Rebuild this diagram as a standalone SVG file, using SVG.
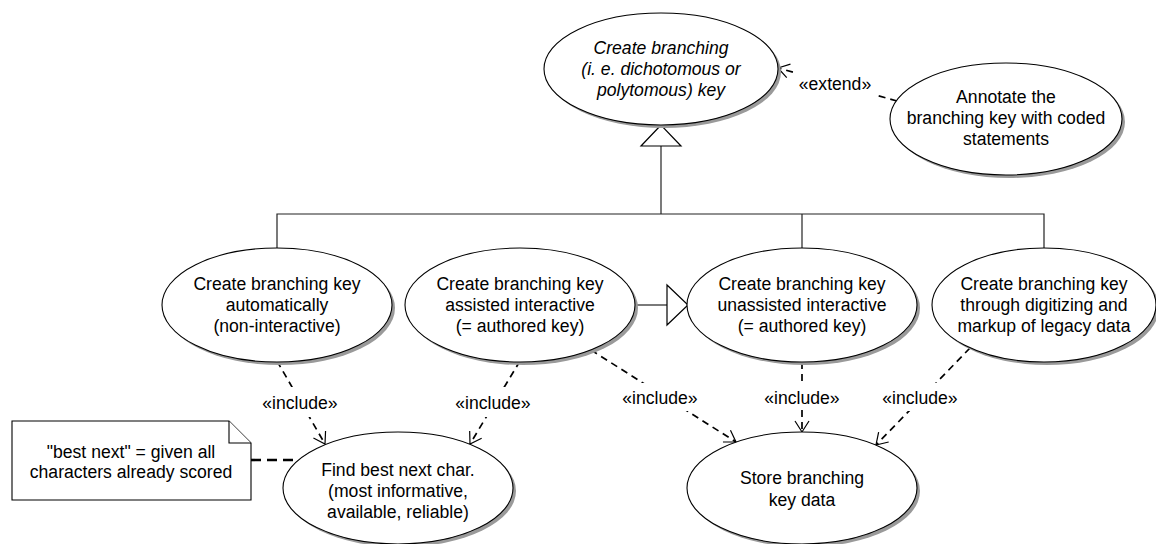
<svg xmlns="http://www.w3.org/2000/svg" width="1156" height="544" viewBox="0 0 1156 544">
<style>
text{font-family:"Liberation Sans",Arial,sans-serif;font-size:17.6px;fill:#000;text-anchor:middle}
.it{font-style:italic}
.sh{fill:#9a9a9a}
.uc{fill:#fff;stroke:#000;stroke-width:1.1}
.gen{fill:none;stroke:#222;stroke-width:1.2}
.tri{fill:#fff;stroke:#000;stroke-width:1.2}
.dep{fill:none;stroke:#000;stroke-width:1.7;stroke-dasharray:7 5}
.anc{fill:none;stroke:#000;stroke-width:2.6;stroke-dasharray:10 6}
.lbg{fill:#fff}
.note{fill:#fff;stroke:#000;stroke-width:1.1}
</style>
<defs>
<marker id="open" viewBox="-13 -9 15 18" refX="0" refY="0" markerWidth="15" markerHeight="18" orient="auto" markerUnits="userSpaceOnUse">
<path d="M-11,-7 L0,0 L-11,7" fill="none" stroke="#000" stroke-width="1.2" stroke-dasharray="none"/>
</marker>
</defs>

<g id="connectors">
  <!-- generalization tree -->
  <polyline class="gen" points="661,146 661,214"/>
  <polyline class="gen" points="277,249 277,214 1044,214 1044,249"/>
  <polyline class="gen" points="802,214 802,249"/>
  <polygon class="tri" points="661,125 641,146 681,146"/>
  <!-- assisted -> unassisted generalization -->
  <line class="gen" x1="635" y1="305" x2="667" y2="305"/>
  <polygon class="tri" points="667,285 667,325 688,305"/>
  <!-- extend -->
  <line class="dep" x1="897" y1="101" x2="778" y2="68" marker-end="url(#open)"/>
  <rect class="lbg" x="796" y="72" width="78" height="24"/>
  <text x="835" y="90">«extend»</text>
  <!-- includes -->
  <line class="dep" x1="277" y1="361" x2="325" y2="444" marker-end="url(#open)"/>
  <rect class="lbg" x="262" y="387" width="77" height="30"/>
  <text x="300" y="409">«include»</text>
  <line class="dep" x1="520" y1="361" x2="470" y2="444" marker-end="url(#open)"/>
  <rect class="lbg" x="455" y="387" width="77" height="30"/>
  <text x="493" y="409">«include»</text>
  <line class="dep" x1="591" y1="350" x2="736" y2="442" marker-end="url(#open)"/>
  <rect class="lbg" x="622" y="383" width="77" height="28"/>
  <text x="660" y="404">«include»</text>
  <line class="dep" x1="802" y1="362" x2="802" y2="432" marker-end="url(#open)"/>
  <rect class="lbg" x="764" y="384" width="77" height="26"/>
  <text x="802" y="404">«include»</text>
  <line class="dep" x1="970" y1="348" x2="876" y2="445" marker-end="url(#open)"/>
  <rect class="lbg" x="882" y="383" width="77" height="28"/>
  <text x="920" y="404">«include»</text>
  <!-- note anchor -->
  <line class="anc" x1="251" y1="460" x2="298" y2="460"/>
</g>

<g id="uc-create-branching">
  <ellipse class="sh" cx="664" cy="72" rx="117" ry="56"/>
  <ellipse class="uc" cx="661" cy="69" rx="117" ry="56"/>
  <text class="it" x="661" y="54">Create branching</text>
  <text class="it" x="661" y="75">(i. e. dichotomous or</text>
  <text class="it" x="661" y="96">polytomous) key</text>
</g>

<g id="uc-annotate">
  <ellipse class="sh" cx="1009" cy="122" rx="116" ry="56"/>
  <ellipse class="uc" cx="1006" cy="119" rx="116" ry="56"/>
  <text x="1006" y="103">Annotate the</text>
  <text x="1006" y="124">branching key with coded</text>
  <text x="1006" y="145">statements</text>
</g>

<g id="uc-automatic">
  <ellipse class="sh" cx="280" cy="308" rx="115" ry="57"/>
  <ellipse class="uc" cx="277" cy="305" rx="115" ry="57"/>
  <text x="277" y="290">Create branching key</text>
  <text x="277" y="311">automatically</text>
  <text x="277" y="332">(non-interactive)</text>
</g>

<g id="uc-assisted">
  <ellipse class="sh" cx="523" cy="308" rx="115" ry="57"/>
  <ellipse class="uc" cx="520" cy="305" rx="115" ry="57"/>
  <text x="520" y="290">Create branching key</text>
  <text x="520" y="311">assisted interactive</text>
  <text x="520" y="332">(= authored key)</text>
</g>

<g id="uc-unassisted">
  <ellipse class="sh" cx="805" cy="308" rx="115" ry="57"/>
  <ellipse class="uc" cx="802" cy="305" rx="115" ry="57"/>
  <text x="802" y="290">Create branching key</text>
  <text x="802" y="311">unassisted interactive</text>
  <text x="802" y="332">(= authored key)</text>
</g>

<g id="uc-digitizing">
  <ellipse class="sh" cx="1047" cy="308" rx="112" ry="57"/>
  <ellipse class="uc" cx="1044" cy="305" rx="112" ry="57"/>
  <text x="1044" y="290">Create branching key</text>
  <text x="1044" y="311">through digitizing and</text>
  <text x="1044" y="332">markup of legacy data</text>
</g>

<g id="uc-find-best">
  <ellipse class="sh" cx="401" cy="491" rx="115" ry="56"/>
  <ellipse class="uc" cx="398" cy="488" rx="115" ry="56"/>
  <text x="398" y="476">Find best next char.</text>
  <text x="398" y="497">(most informative,</text>
  <text x="398" y="518">available, reliable)</text>
</g>

<g id="uc-store">
  <ellipse class="sh" cx="805" cy="491" rx="115" ry="56"/>
  <ellipse class="uc" cx="802" cy="488" rx="115" ry="56"/>
  <text x="802" y="484">Store branching</text>
  <text x="802" y="506">key data</text>
</g>

<g id="note">
  <path class="note" d="M12,421 L229,421 L251,443 L251,500 L12,500 Z"/>
  <path class="note" d="M229,421 L229,443 L251,443" fill="none"/>
  <text x="131" y="458">"best next" = given all</text>
  <text x="131" y="478">characters already scored</text>
</g>
</svg>
